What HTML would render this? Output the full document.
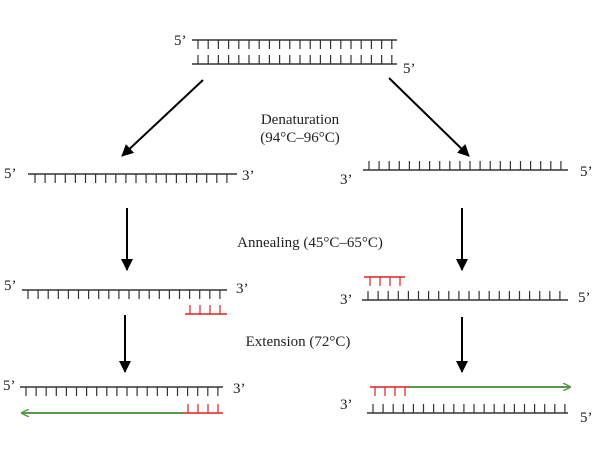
<!DOCTYPE html>
<html><head><meta charset="utf-8"><style>
html,body{margin:0;padding:0;background:#fff;width:600px;height:450px;overflow:hidden}
text{font-family:"Liberation Serif",serif;fill:#222}
</style></head><body>
<svg id="s" width="600" height="450" xmlns="http://www.w3.org/2000/svg">
<defs>
<marker id="ab" markerWidth="12" markerHeight="12" refX="11" refY="6" orient="auto" markerUnits="userSpaceOnUse"><path d="M0,0 L12,6 L0,12 Z" fill="#000"/></marker>
<marker id="ag" markerWidth="8" markerHeight="8" refX="7" refY="4" orient="auto" markerUnits="userSpaceOnUse"><path d="M0,0 L8,4 L0,8" fill="none" stroke="#5a9a4a" stroke-width="1.5"/></marker>
</defs>
<g stroke="#000" stroke-width="2">
<line x1="203" y1="80" x2="122" y2="156" marker-end="url(#ab)"/>
<line x1="389" y1="78" x2="469" y2="156" marker-end="url(#ab)"/>
<line x1="127" y1="208" x2="127" y2="270" marker-end="url(#ab)"/>
<line x1="462" y1="208" x2="462" y2="270" marker-end="url(#ab)"/>
<line x1="125" y1="315" x2="125" y2="372" marker-end="url(#ab)"/>
<line x1="462" y1="317" x2="462" y2="372" marker-end="url(#ab)"/>
</g>
<g stroke="#5a9a4a" stroke-width="2">
<line x1="183" y1="413" x2="22" y2="413" marker-end="url(#ag)"/>
<line x1="410" y1="387" x2="570" y2="387" marker-end="url(#ag)"/>
</g>
<g font-size="15">
<text x="174" y="45">5’</text><text x="403" y="73">5’</text>
<text x="4" y="178">5’</text><text x="242" y="180">3’</text>
<text x="340" y="184">3’</text><text x="580" y="176">5’</text>
<text x="4" y="290">5’</text><text x="236" y="293">3’</text>
<text x="340" y="304">3’</text><text x="578" y="302">5’</text>
<text x="3" y="390">5’</text><text x="233" y="393">3’</text>
<text x="340" y="409">3’</text><text x="580" y="422">5’</text>
<text x="300" y="124" text-anchor="middle">Denaturation</text>
<text x="300" y="142" text-anchor="middle">(94°C–96°C)</text>
<text x="310" y="247" text-anchor="middle">Annealing (45°C–65°C)</text>
<text x="298" y="346" text-anchor="middle">Extension (72°C)</text>
</g>
<g id="dna"></g>
</svg>
<script>
var g=document.getElementById('dna'),ns='http://www.w3.org/2000/svg';
function L(x1,y1,x2,y2,c,w){var l=document.createElementNS(ns,'line');l.setAttribute('x1',x1);l.setAttribute('y1',y1);l.setAttribute('x2',x2);l.setAttribute('y2',y2);l.setAttribute('stroke',c);l.setAttribute('stroke-width',w);g.appendChild(l);}
function S(x1,x2,y,tx0,sp,n,d,c){L(x1,y,x2,y,c,1.6);for(var i=0;i<n;i++){var x=tx0+i*sp;L(x,y,x,y+d*9,c,1.2);}}
var K='#333',R='#e02020';
S(192,397,40,198,10.2,20,1,K);
S(192,397,64,198,10.2,20,-1,K);
S(28,237,174,35,10.1,20,1,K);
S(363,568,170,369,10.1,20,-1,K);
S(22,227,290,28,10.1,20,1,K);
S(185,227,314,190,10,4,-1,R);
S(364,405,277,370,10,4,1,R);
S(362,568,300,368,10.1,20,-1,K);
S(20,223,387,26,10.1,20,1,K);
S(183,223,413,188,10,4,-1,R);
S(370,410,387,375,10,4,1,R);
S(367,568,413,373,10.1,20,-1,K);
</script>
</body></html>
